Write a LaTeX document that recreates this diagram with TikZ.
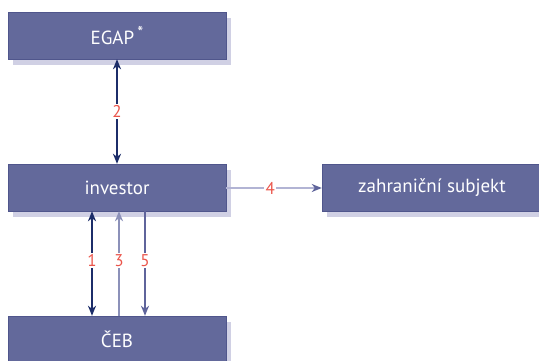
\documentclass[tikz,border=0pt]{standalone}
\usepackage{fontspec}
\setmainfont{PT Sans}
\usetikzlibrary{arrows.meta,shadows}
\definecolor{boxfill}{RGB}{99,105,155}
\definecolor{boxedge}{RGB}{80,86,140}
\definecolor{shadowc}{RGB}{208,208,228}
\definecolor{navy}{RGB}{28,45,105}
\definecolor{arrlight}{RGB}{140,145,185}
\definecolor{arrmid}{RGB}{95,100,155}
\definecolor{arrpale}{RGB}{178,180,212}
\definecolor{lblred}{RGB}{235,85,75}
\tikzset{
  box/.style={rectangle, fill=boxfill, draw=boxedge, line width=0.4pt, text=white,
    font=\fontsize{19}{21}\selectfont, inner sep=0pt,
    drop shadow={shadow xshift=5pt, shadow yshift=-6pt, fill=shadowc, opacity=1}},
  tipS/.style={-{Stealth[length=10pt,width=8pt,inset=3pt]}},
  con/.style={line width=1.5pt},
  lbl/.style={fill=white, text=lblred, font=\fontsize{17}{19}\selectfont, inner sep=1.5pt}
}
\begin{document}
\begin{tikzpicture}[x=1pt,y=1pt]
\useasboundingbox (0,0) rectangle (539,360);
\clip (0,0) rectangle (539,360);
\node[box, minimum width=218pt, minimum height=47pt] (egap) at (117,324.5) {EGAP\,\raisebox{0.3em}{\fontsize{17}{17}\selectfont *}};
\node[box, minimum width=218pt, minimum height=47pt] (inv) at (117,172.5) {investor};
\node[box, minimum width=220pt, minimum height=47pt] (zahr) at (432,172.5) {zahraniční subjekt};
\node[box, minimum width=218pt, minimum height=46pt] (ceb) at (117,21) {ČEB};
% 2
\draw[con, navy, {Stealth[length=10pt,width=8pt,inset=3pt]}-{Stealth[length=10pt,width=8pt,inset=3pt]}]
  (egap.south) -- (inv.north) node[lbl, midway] {2};
% 1
\draw[con, navy, {Stealth[length=10pt,width=8pt,inset=3pt]}-{Stealth[length=10pt,width=8pt,inset=3pt]}]
  ([xshift=-25pt]inv.south) -- ([xshift=-25pt]ceb.north) node[lbl, pos=0.47] {1};
% 3
\draw[con, arrlight, tipS]
  ([xshift=2pt]ceb.north) -- ([xshift=2pt]inv.south) node[lbl, pos=0.53] {3};
% 5
\draw[con, arrmid, tipS]
  ([xshift=28pt]inv.south) -- ([xshift=28pt]ceb.north) node[lbl, pos=0.47] {5};
% 4
\draw[con, arrpale, -{Stealth[length=10pt,width=8pt,inset=3pt,color=arrmid]}]
  ([yshift=-0.5pt]inv.east) -- ([yshift=-0.5pt]zahr.west) node[lbl, pos=0.46] {4};
\end{tikzpicture}
\end{document}
